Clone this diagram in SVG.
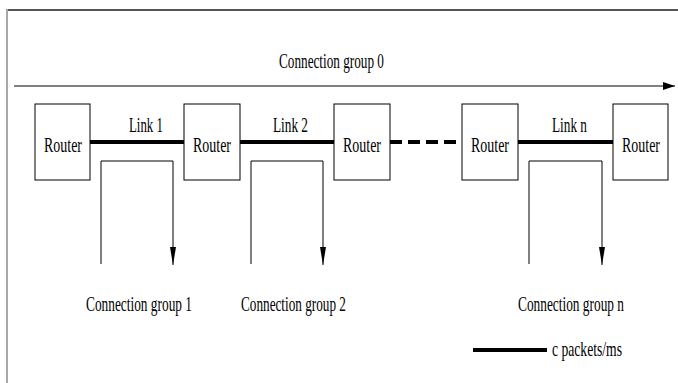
<svg xmlns="http://www.w3.org/2000/svg" width="678" height="383" viewBox="0 0 678 383">
  <style>
    .t { font-family: "Liberation Serif", "Times New Roman", serif; font-size: 21px; fill: #000; }
    .box { fill: #fff; stroke: #000; stroke-width: 1; }
    .link { stroke: #000; stroke-width: 4; fill: none; }
    .thin { stroke: #000; stroke-width: 1; fill: none; }
  </style>
  <defs>
    <marker id="headMain" markerUnits="userSpaceOnUse" markerWidth="14" markerHeight="10" refX="12" refY="4" orient="auto">
      <path d="M0,0 L12,4 L0,8 Z" fill="#000"/>
    </marker>
    <marker id="headDown" markerUnits="userSpaceOnUse" markerWidth="20" markerHeight="8" refX="18" refY="3" orient="auto">
      <path d="M0,0 L18,3 L0,6 Z" fill="#000"/>
    </marker>
  </defs>

  <rect width="678" height="383" fill="#fff"/>
  <!-- frame -->
  <line x1="6" y1="10" x2="678" y2="10" stroke="#555" stroke-width="2"/>
  <line x1="7" y1="9" x2="7" y2="383" stroke="#a8a8a8" stroke-width="2"/>

  <g id="connectors">
    <!-- connection group 0 spanning the path -->
    <line class="thin" x1="14" y1="86" x2="675" y2="86" marker-end="url(#headMain)"/>
    <!-- links -->
    <line class="link" x1="90" y1="142" x2="184" y2="142"/>
    <line class="link" x1="240" y1="142" x2="334" y2="142"/>
    <line class="link" x1="390" y1="142" x2="462" y2="142" stroke-dasharray="12 6"/>
    <line class="link" x1="518" y1="142" x2="613" y2="142"/>
    <!-- per-link cross traffic -->
    <path class="thin" d="M101,264 V161 H173 V265" marker-end="url(#headDown)"/>
    <path class="thin" d="M251,264 V161 H323 V265" marker-end="url(#headDown)"/>
    <path class="thin" d="M529,264 V161 H602 V265" marker-end="url(#headDown)"/>
    <!-- legend -->
    <line class="link" x1="473" y1="350" x2="547" y2="350"/>
  </g>

  <!-- condensed serif text: glyphs squeezed horizontally to 64% -->
  <g id="router1"><rect class="box" x="35" y="104" width="55" height="76"/><text class="t" transform="translate(44 152) scale(0.64 1)" textLength="59.4" lengthAdjust="spacingAndGlyphs">Router</text></g>
  <g id="router2"><rect class="box" x="184" y="104" width="56" height="76"/><text class="t" transform="translate(193 152) scale(0.64 1)" textLength="59.4" lengthAdjust="spacingAndGlyphs">Router</text></g>
  <g id="router3"><rect class="box" x="334" y="104" width="56" height="76"/><text class="t" transform="translate(343 152) scale(0.64 1)" textLength="59.4" lengthAdjust="spacingAndGlyphs">Router</text></g>
  <g id="router4"><rect class="box" x="462" y="104" width="56" height="76"/><text class="t" transform="translate(471 152) scale(0.64 1)" textLength="59.4" lengthAdjust="spacingAndGlyphs">Router</text></g>
  <g id="router5"><rect class="box" x="613" y="104" width="55" height="76"/><text class="t" transform="translate(622 152) scale(0.64 1)" textLength="59.4" lengthAdjust="spacingAndGlyphs">Router</text></g>

  <g id="labels">
    <text class="t" transform="translate(279 68) scale(0.64 1)" textLength="164" lengthAdjust="spacingAndGlyphs">Connection group 0</text>
    <text class="t" transform="translate(129 132) scale(0.64 1)" textLength="53" lengthAdjust="spacingAndGlyphs">Link 1</text>
    <text class="t" transform="translate(273 132) scale(0.64 1)" textLength="54.7" lengthAdjust="spacingAndGlyphs">Link 2</text>
    <text class="t" transform="translate(552 132) scale(0.64 1)" textLength="54.7" lengthAdjust="spacingAndGlyphs">Link n</text>
    <text class="t" transform="translate(86 311) scale(0.64 1)" textLength="165.6" lengthAdjust="spacingAndGlyphs">Connection group 1</text>
    <text class="t" transform="translate(241 311) scale(0.64 1)" textLength="164" lengthAdjust="spacingAndGlyphs">Connection group 2</text>
    <text class="t" transform="translate(518 311) scale(0.64 1)" textLength="165.6" lengthAdjust="spacingAndGlyphs">Connection group n</text>
    <text class="t" transform="translate(552 356) scale(0.64 1)" textLength="109.4" lengthAdjust="spacingAndGlyphs">c packets/ms</text>
  </g>
</svg>
